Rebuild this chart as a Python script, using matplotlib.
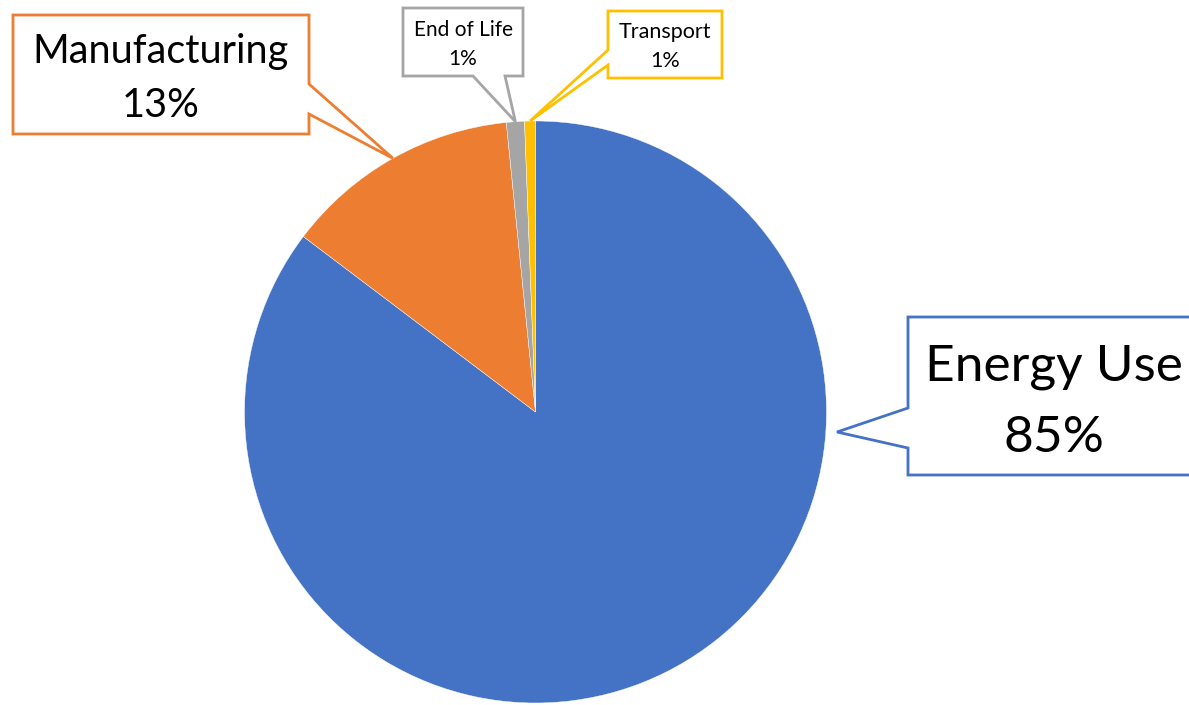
import matplotlib
matplotlib.use("Agg")
import matplotlib.pyplot as plt
from matplotlib.patches import Polygon
import numpy as np

categories = ["Energy Use", "Manufacturing", "End of Life", "Transport"]
values = [85.3, 13.1, 1.0, 0.6]
pct_labels = ["85%", "13%", "1%", "1%"]
colors = ["#4472C4", "#ED7D31", "#A5A5A5", "#FFC000"]

W, H = 1189, 705
fig = plt.figure(figsize=(W / 100, H / 100), dpi=100)
ax = fig.add_axes([0, 0, 1, 1])

cx, cy, R = 535.5, H - 412, 291
wedges, _ = ax.pie(values, colors=colors, startangle=90, counterclock=False,
                   center=(cx, cy), radius=R, frame=True,
                   wedgeprops=dict(edgecolor="white", linewidth=0.3))
ax.set_xlim(0, W)
ax.set_ylim(0, H)
ax.set_aspect("equal")
ax.axis("off")

FONT = "Lato"


def yy(y):
    return H - y


def tip_of(i):
    w = wedges[i]
    a = np.deg2rad((w.theta1 + w.theta2) / 2)
    return cx + R * np.cos(a), cy + R * np.sin(a)


def callout(pts, color, lw=2.0):
    poly = Polygon([(x, yy(y)) for x, y in pts], closed=True, facecolor="white",
                   edgecolor=color, linewidth=lw, joinstyle="miter", zorder=5)
    ax.add_patch(poly)


def label(x, y1, y2, name, pct, size):
    ax.text(x, yy(y1), name, ha="center", va="baseline", fontsize=size,
            family=FONT, color="black", zorder=6)
    ax.text(x, yy(y2), pct, ha="center", va="baseline", fontsize=size,
            family=FONT, color="black", zorder=6)


# Energy Use
callout([(908, 317), (1195, 317), (1195, 475), (908, 475), (908, 448),
         (837, 432), (908, 408)], colors[0])
label(1054, 380, 452, categories[0], pct_labels[0], 37)

# Manufacturing
tx, ty = tip_of(1)
callout([(13, 15), (309, 15), (309, 84), (tx, H - ty), (309, 114), (309, 134),
         (13, 134)], colors[1])
label(161, 63, 117, categories[1], pct_labels[1], 28.5)

# End of Life
tx, ty = tip_of(2)
callout([(403, 8), (523, 8), (523, 76), (505, 76), (tx, H - ty), (473, 76),
         (403, 76)], colors[2])
label(463, 36, 65, categories[2], pct_labels[2], 15)

# Transport
tx, ty = tip_of(3)
callout([(608, 11), (722, 11), (722, 78), (608, 78), (608, 65), (tx, H - ty),
         (608, 50)], colors[3])
label(665, 38, 67, categories[3], pct_labels[3], 15.5)

fig.savefig("out.png", dpi=100, facecolor="white")
